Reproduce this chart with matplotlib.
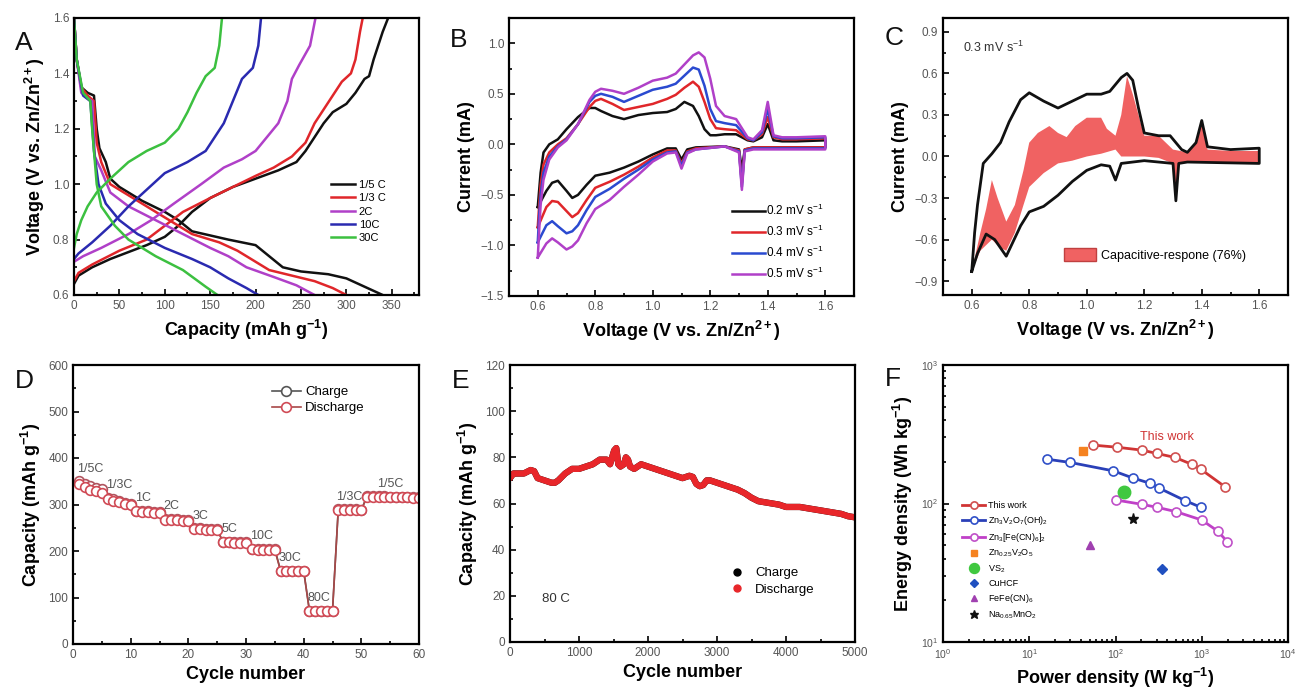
import matplotlib
matplotlib.use('Agg')
import matplotlib.pyplot as plt
from matplotlib.ticker import AutoMinorLocator, MultipleLocator, LogLocator, NullFormatter
from matplotlib.lines import Line2D
from matplotlib.patches import Patch

plt.rcParams['font.family'] = ['Liberation Sans', 'DejaVu Sans']
plt.rcParams['mathtext.fontset'] = 'custom'
plt.rcParams['mathtext.rm'] = 'Liberation Sans'
plt.rcParams['mathtext.it'] = 'Liberation Sans:italic'
plt.rcParams['mathtext.bf'] = 'Liberation Sans:bold'

# ---------------- Panel A: charge/discharge curves ----------------
A_labels = ['1/5 C', '1/3 C', '2C', '10C', '30C']
A_colors = ['#111111', '#e0262a', '#b040c8', '#2a2ab0', '#3cc040']
A_dis_cap_15 = [0, 3, 8, 15, 22, 25, 28, 35, 40, 50, 75, 100, 115, 130, 150, 170, 185, 200, 215, 230, 250, 280, 300, 320, 340]
A_dis_v_15 = [1.6, 1.45, 1.35, 1.33, 1.32, 1.2, 1.13, 1.08, 1.02, 0.99, 0.94, 0.9, 0.87, 0.83, 0.815, 0.8, 0.79, 0.78, 0.74, 0.7, 0.685, 0.675, 0.66, 0.63, 0.6]
A_chg_cap_15 = [0, 5, 20, 40, 60, 80, 100, 115, 130, 150, 175, 200, 225, 245, 255, 265, 275, 285, 300, 310, 320, 325, 330, 340, 346]
A_chg_v_15 = [0.64, 0.67, 0.7, 0.73, 0.755, 0.78, 0.81, 0.85, 0.9, 0.95, 0.99, 1.02, 1.05, 1.08, 1.12, 1.17, 1.22, 1.26, 1.29, 1.33, 1.38, 1.39, 1.45, 1.55, 1.6]
A_dis_cap_13 = [0, 3, 8, 15, 22, 25, 30, 40, 60, 100, 130, 160, 180, 200, 215, 240, 265, 285, 300]
A_dis_v_13 = [1.6, 1.45, 1.35, 1.32, 1.3, 1.15, 1.08, 1.0, 0.96, 0.88, 0.82, 0.79, 0.76, 0.72, 0.69, 0.67, 0.65, 0.625, 0.6]
A_chg_cap_13 = [0, 5, 20, 50, 80, 100, 120, 150, 175, 200, 220, 240, 255, 265, 275, 285, 295, 305, 310, 315, 318]
A_chg_v_13 = [0.65, 0.68, 0.71, 0.76, 0.8, 0.85, 0.9, 0.95, 0.99, 1.03, 1.06, 1.1, 1.15, 1.22, 1.27, 1.32, 1.37, 1.4, 1.45, 1.55, 1.6]
A_dis_cap_2 = [0, 3, 8, 15, 20, 23, 30, 40, 60, 90, 120, 150, 170, 190, 220, 245, 265]
A_dis_v_2 = [1.6, 1.45, 1.33, 1.31, 1.3, 1.1, 1.05, 0.97, 0.92, 0.87, 0.82, 0.77, 0.74, 0.7, 0.665, 0.635, 0.6]
A_chg_cap_2 = [0, 10, 30, 60, 85, 110, 140, 165, 185, 200, 210, 225, 235, 240, 248, 260, 266]
A_chg_v_2 = [0.72, 0.74, 0.77, 0.82, 0.87, 0.93, 1.0, 1.06, 1.09, 1.12, 1.16, 1.22, 1.3, 1.38, 1.43, 1.5, 1.6]
A_dis_cap_10 = [0, 3, 10, 18, 22, 27, 35, 50, 70, 100, 130, 150, 170, 190, 203]
A_dis_v_10 = [1.6, 1.45, 1.32, 1.3, 1.12, 1.0, 0.93, 0.87, 0.82, 0.77, 0.73, 0.7, 0.66, 0.625, 0.6]
A_chg_cap_10 = [0, 5, 20, 40, 60, 80, 100, 125, 145, 155, 165, 175, 185, 197, 203, 206]
A_chg_v_10 = [0.73, 0.75, 0.79, 0.85, 0.92, 0.98, 1.04, 1.08, 1.12, 1.17, 1.22, 1.3, 1.38, 1.42, 1.5, 1.6]
A_dis_cap_30 = [0, 3, 10, 18, 20, 25, 30, 45, 60, 90, 120, 145, 158]
A_dis_v_30 = [1.6, 1.45, 1.33, 1.3, 1.2, 1.0, 0.92, 0.85, 0.8, 0.74, 0.69, 0.63, 0.6]
A_chg_cap_30 = [0, 3, 8, 15, 25, 40, 60, 80, 100, 115, 125, 135, 145, 155, 160, 163]
A_chg_v_30 = [0.77, 0.82, 0.87, 0.92, 0.97, 1.02, 1.08, 1.12, 1.15, 1.2, 1.26, 1.33, 1.39, 1.42, 1.5, 1.6]

# ---------------- Panel B: CV at different scan rates ----------------
B_labels = ['0.2 mV s$^{-1}$', '0.3 mV s$^{-1}$', '0.4 mV s$^{-1}$', '0.5 mV s$^{-1}$']
B_colors = ['#111111', '#e0262a', '#2a4ad0', '#b040c8']
B_V_up = [0.60, 0.605, 0.61, 0.62, 0.64, 0.67, 0.70, 0.74, 0.78, 0.80, 0.82, 0.86, 0.90, 0.95, 1.00, 1.05, 1.08, 1.11, 1.14, 1.16, 1.18, 1.20, 1.22, 1.25, 1.29, 1.33, 1.35, 1.38, 1.40, 1.42, 1.45, 1.50, 1.60]
B_I_up_02 = [-0.62, -0.45, -0.28, -0.08, 0.0, 0.05, 0.15, 0.27, 0.36, 0.36, 0.33, 0.28, 0.25, 0.29, 0.31, 0.32, 0.35, 0.42, 0.38, 0.28, 0.15, 0.09, 0.09, 0.10, 0.10, 0.04, 0.03, 0.07, 0.20, 0.04, 0.03, 0.03, 0.04]
B_I_up_03 = [-0.82, -0.60, -0.40, -0.20, -0.08, 0.00, 0.06, 0.20, 0.37, 0.43, 0.45, 0.40, 0.34, 0.37, 0.40, 0.45, 0.49, 0.56, 0.62, 0.57, 0.42, 0.25, 0.16, 0.15, 0.14, 0.05, 0.04, 0.10, 0.27, 0.07, 0.05, 0.05, 0.06]
B_I_up_04 = [-0.97, -0.70, -0.50, -0.28, -0.12, -0.02, 0.05, 0.20, 0.42, 0.48, 0.50, 0.47, 0.42, 0.48, 0.54, 0.57, 0.60, 0.68, 0.76, 0.74, 0.58, 0.35, 0.23, 0.21, 0.19, 0.06, 0.04, 0.12, 0.35, 0.08, 0.06, 0.06, 0.07]
B_I_up_05 = [-1.12, -0.85, -0.60, -0.35, -0.15, -0.03, 0.04, 0.20, 0.44, 0.52, 0.55, 0.53, 0.50, 0.56, 0.63, 0.66, 0.70, 0.79, 0.88, 0.91, 0.86, 0.65, 0.38, 0.28, 0.25, 0.07, 0.05, 0.14, 0.42, 0.09, 0.07, 0.07, 0.08]
B_V_down = [1.60, 1.40, 1.35, 1.32, 1.31, 1.30, 1.25, 1.15, 1.12, 1.10, 1.08, 1.05, 1.00, 0.95, 0.90, 0.85, 0.80, 0.77, 0.74, 0.72, 0.70, 0.67, 0.65, 0.63, 0.60]
B_I_down_02 = [-0.03, -0.03, -0.03, -0.05, -0.25, -0.05, -0.02, -0.03, -0.05, -0.15, -0.04, -0.04, -0.10, -0.17, -0.23, -0.28, -0.31, -0.40, -0.50, -0.53, -0.46, -0.36, -0.38, -0.46, -0.62]
B_I_down_03 = [-0.03, -0.03, -0.03, -0.05, -0.38, -0.06, -0.02, -0.04, -0.07, -0.19, -0.06, -0.06, -0.13, -0.22, -0.30, -0.37, -0.43, -0.55, -0.68, -0.72, -0.66, -0.57, -0.56, -0.62, -0.82]
B_I_down_04 = [-0.04, -0.04, -0.04, -0.06, -0.42, -0.07, -0.02, -0.05, -0.08, -0.21, -0.07, -0.08, -0.15, -0.25, -0.34, -0.44, -0.52, -0.65, -0.80, -0.86, -0.88, -0.81, -0.76, -0.80, -0.97]
B_I_down_05 = [-0.05, -0.05, -0.05, -0.07, -0.45, -0.08, -0.02, -0.05, -0.09, -0.24, -0.08, -0.09, -0.17, -0.30, -0.42, -0.55, -0.64, -0.78, -0.95, -1.01, -1.04, -0.97, -0.93, -0.98, -1.12]

# ---------------- Panel C: capacitive contribution ----------------
C_V_up = [0.60, 0.61, 0.62, 0.64, 0.67, 0.70, 0.73, 0.77, 0.80, 0.85, 0.90, 0.95, 1.00, 1.05, 1.08, 1.12, 1.14, 1.16, 1.18, 1.20, 1.25, 1.29, 1.33, 1.35, 1.38, 1.40, 1.42, 1.50, 1.60]
C_I_up = [-0.83, -0.55, -0.35, -0.05, 0.02, 0.10, 0.25, 0.41, 0.46, 0.40, 0.35, 0.40, 0.45, 0.45, 0.47, 0.57, 0.60, 0.55, 0.35, 0.17, 0.15, 0.15, 0.05, 0.03, 0.10, 0.26, 0.07, 0.05, 0.06]
C_V_down = [1.60, 1.35, 1.32, 1.31, 1.30, 1.20, 1.12, 1.10, 1.08, 1.05, 1.00, 0.95, 0.90, 0.85, 0.80, 0.77, 0.72, 0.68, 0.65, 0.62, 0.60]
C_I_down = [-0.05, -0.04, -0.05, -0.32, -0.05, -0.03, -0.05, -0.17, -0.07, -0.06, -0.10, -0.18, -0.28, -0.36, -0.40, -0.50, -0.72, -0.60, -0.56, -0.70, -0.83]
C_fill_V_up = [0.60, 0.63, 0.65, 0.67, 0.69, 0.72, 0.75, 0.78, 0.80, 0.83, 0.87, 0.90, 0.93, 0.96, 1.00, 1.05, 1.07, 1.10, 1.12, 1.14, 1.16, 1.20, 1.25, 1.30, 1.35, 1.38, 1.40, 1.42, 1.50, 1.60]
C_fill_I_up = [-0.83, -0.55, -0.38, -0.17, -0.30, -0.47, -0.35, -0.10, 0.10, 0.17, 0.22, 0.17, 0.14, 0.22, 0.28, 0.28, 0.20, 0.15, 0.30, 0.58, 0.45, 0.15, 0.15, 0.05, 0.03, 0.10, 0.26, 0.05, 0.04, 0.04]
C_fill_V_down = [1.60, 1.50, 1.40, 1.32, 1.31, 1.30, 1.25, 1.20, 1.15, 1.12, 1.10, 1.05, 1.00, 0.95, 0.90, 0.85, 0.80, 0.78, 0.75, 0.72, 0.70, 0.67, 0.63, 0.60]
C_fill_I_down = [-0.04, -0.05, -0.04, -0.05, -0.28, -0.05, -0.01, 0.00, 0.00, 0.00, 0.05, 0.02, 0.00, -0.03, -0.05, -0.12, -0.22, -0.35, -0.55, -0.68, -0.66, -0.60, -0.68, -0.83]

# ---------------- Panel D: rate performance ----------------
D_cycles = list(range(1, 61))
D_charge = [350, 344, 339, 336, 333, 315, 311, 307, 304, 302, 287, 286, 285, 284, 284, 269, 268, 268, 267, 266,
            249, 249, 248, 248, 247, 220, 220, 219, 219, 219, 205, 205, 204, 204, 204, 158, 158, 158, 158, 158,
            72, 72, 72, 72, 72, 290, 290, 290, 290, 289, 318, 318, 318, 318, 317, 317, 317, 317, 316, 316]
D_discharge = [345, 338, 332, 328, 325, 312, 308, 305, 302, 300, 285, 284, 283, 282, 282, 267, 266, 266, 265, 264,
               247, 247, 246, 246, 246, 219, 219, 218, 218, 218, 204, 203, 203, 203, 202, 157, 157, 157, 157, 157,
               71, 71, 71, 71, 71, 289, 289, 289, 288, 288, 317, 317, 317, 317, 316, 316, 316, 316, 315, 315]
D_rate_labels = ['1/5C', '1/3C', '1C', '2C', '3C', '5C', '10C', '30C', '80C', '1/3C', '1/5C']
D_rate_start = [1, 6, 11, 16, 21, 26, 31, 36, 41, 46, 53]

# ---------------- Panel E: long cycling at 80 C ----------------
E_cycles = [0, 50, 100, 200, 300, 350, 400, 500, 600, 650, 700, 800, 900, 1000, 1100, 1200, 1300, 1400, 1450,
            1480, 1510, 1540, 1570, 1600, 1650, 1680, 1710, 1740, 1800, 1900, 2000, 2100, 2200, 2300, 2400, 2500,
            2600, 2650, 2700, 2750, 2800, 2850, 2900, 3000, 3100, 3200, 3300, 3400, 3500, 3600, 3700, 3800, 3900,
            4000, 4100, 4200, 4300, 4400, 4500, 4600, 4700, 4800, 4900, 5000]
E_capacity = [71, 73, 73, 73, 74.5, 74, 71, 70, 69, 69, 70, 73, 75, 75, 76, 77, 79, 79, 77,
              80, 83, 84, 77, 76, 77, 80, 79, 76, 75, 77, 76, 75, 74, 73, 72, 71,
              72, 71.5, 68.5, 67.5, 68, 70, 70, 69, 68, 67, 66, 64.5, 62.5, 61, 60.5, 60, 59.5,
              58.5, 58.5, 58.5, 58, 57.5, 57, 56.5, 56, 55.5, 54.5, 54]

# ---------------- Panel F: Ragone plot ----------------
F_this_P = [55, 103, 201, 300, 490, 764, 971, 1862]
F_this_E = [264, 255, 243, 230, 215, 192, 177, 132]
F_znvo_P = [15.9, 29.7, 94.4, 158, 251, 322, 639, 971]
F_znvo_E = [209, 198, 172, 153, 140, 129, 105, 94]
F_znfe_P = [101, 201, 305, 503, 998, 1528, 1978]
F_znfe_E = [106, 98.7, 93.8, 87.3, 76, 63.3, 53]
F_others_labels = ['Zn$_{0.25}$V$_2$O$_5$', 'VS$_2$', 'CuHCF', 'FeFe(CN)$_6$', 'Na$_{0.65}$MnO$_2$']
F_others_P = [41.7, 125.6, 346, 50.6, 158]
F_others_E = [239, 121.7, 33.5, 50.1, 77.3]

# ---------------- figure ----------------
W, H = 1296, 692
fig = plt.figure(figsize=(W / 100, H / 100), dpi=100)


def px_axes(left, top, right, bottom):
    return fig.add_axes([left / W, 1 - bottom / H, (right - left) / W, (bottom - top) / H])


TICK_COLOR = '#555555'


def style(ax, minor=True):
    for s in ax.spines.values():
        s.set_linewidth(1.6)
    ax.tick_params(which='both', direction='in', labelsize=8.5, labelcolor=TICK_COLOR, width=1.2)
    ax.tick_params(which='major', length=4)
    ax.tick_params(which='minor', length=2.5)
    if minor:
        ax.xaxis.set_minor_locator(AutoMinorLocator(2))
        ax.yaxis.set_minor_locator(AutoMinorLocator(2))


LABEL_KW = dict(fontsize=13, fontweight='bold')

# Panel A
axA = px_axes(74, 18, 419, 295)
A_data = [(A_dis_cap_15, A_dis_v_15, A_chg_cap_15, A_chg_v_15),
          (A_dis_cap_13, A_dis_v_13, A_chg_cap_13, A_chg_v_13),
          (A_dis_cap_2, A_dis_v_2, A_chg_cap_2, A_chg_v_2),
          (A_dis_cap_10, A_dis_v_10, A_chg_cap_10, A_chg_v_10),
          (A_dis_cap_30, A_dis_v_30, A_chg_cap_30, A_chg_v_30)]
for (dc, dv, cc, cv), lab, col in zip(A_data, A_labels, A_colors):
    axA.plot(dc, dv, color=col, lw=1.8, label=lab)
    axA.plot(cc, cv, color=col, lw=1.8)
axA.set_xlim(0, 380)
axA.set_ylim(0.6, 1.6)
axA.xaxis.set_major_locator(MultipleLocator(50))
axA.yaxis.set_major_locator(MultipleLocator(0.2))
style(axA)
axA.set_xlabel('Capacity (mAh g$^{\\mathbf{-1}}$)', **LABEL_KW)
axA.set_ylabel('Voltage (V vs. Zn/Zn$^{\\mathbf{2+}}$)', **LABEL_KW)
axA.legend(loc='upper left', bbox_to_anchor=(0.745, 0.415), frameon=False, fontsize=8,
           handlelength=2.2, handletextpad=0.3, labelspacing=0.3, borderpad=0, borderaxespad=0)

# Panel B
axB = px_axes(509, 18, 854, 296)
B_up = [B_I_up_02, B_I_up_03, B_I_up_04, B_I_up_05]
B_down = [B_I_down_02, B_I_down_03, B_I_down_04, B_I_down_05]
for iu, idn, lab, col in zip(B_up, B_down, B_labels, B_colors):
    axB.plot(B_V_up + B_V_down, iu + idn, color=col, lw=1.8, label=lab)
axB.set_xlim(0.5, 1.7)
axB.set_ylim(-1.5, 1.25)
axB.xaxis.set_major_locator(MultipleLocator(0.2))
axB.yaxis.set_major_locator(MultipleLocator(0.5))
style(axB)
axB.set_xlabel('Voltage (V vs. Zn/Zn$^{\\mathbf{2+}}$)', **LABEL_KW)
axB.set_ylabel('Current (mA)', **LABEL_KW)
axB.legend(loc='upper left', bbox_to_anchor=(0.645, 0.335), frameon=False, fontsize=8.5,
           handlelength=2.8, handletextpad=0.1, labelspacing=0.5, borderpad=0, borderaxespad=0)

# Panel C
axC = px_axes(943, 18, 1288, 295)
axC.fill(C_fill_V_up + C_fill_V_down, C_fill_I_up + C_fill_I_down, color='#f06262', lw=0,
         label='Capacitive-respone (76%)')
axC.plot(C_V_up + C_V_down, C_I_up + C_I_down, color='#111111', lw=2)
axC.set_xlim(0.5, 1.7)
axC.set_ylim(-1.0, 1.0)
axC.xaxis.set_major_locator(MultipleLocator(0.2))
axC.yaxis.set_major_locator(MultipleLocator(0.3))
style(axC)
axC.set_xlabel('Voltage (V vs. Zn/Zn$^{\\mathbf{2+}}$)', **LABEL_KW)
axC.set_ylabel('Current (mA)', **LABEL_KW)
axC.text(0.058, 0.895, '0.3 mV s$^{-1}$', transform=axC.transAxes, fontsize=9, color='#333333',
         va='center', ha='left')
axC.legend(handles=[Patch(facecolor='#f06262', edgecolor='#c04040', label='Capacitive-respone (76%)')],
           loc='center left', bbox_to_anchor=(0.35, 0.145), frameon=False, fontsize=9,
           handlelength=2.6, handleheight=1.3, handletextpad=0.4, borderpad=0, borderaxespad=0)

# Panel D
axD = px_axes(73, 365, 419, 644)
axD.plot(D_cycles, D_charge, color='#555555', lw=1.2, marker='o', ms=7, mfc='white',
         mec='#b05560', mew=1.2, label='Charge')
axD.plot(D_cycles, D_discharge, color='#a84848', lw=1.2, marker='o', ms=7, mfc='white',
         mec='#d04a55', mew=1.2, label='Discharge')
for lab, st in zip(D_rate_labels, D_rate_start):
    yv = max(D_charge[st - 1:st + 4])
    axD.text(st - 0.3, yv + 14, lab, fontsize=9, color='#555555', ha='left', va='bottom')
axD.set_xlim(0, 60)
axD.set_ylim(0, 600)
axD.xaxis.set_major_locator(MultipleLocator(10))
axD.yaxis.set_major_locator(MultipleLocator(100))
style(axD)
axD.set_xlabel('Cycle number', **LABEL_KW)
axD.set_ylabel('Capacity (mAh g$^{\\mathbf{-1}}$)', **LABEL_KW)
D_handles = [Line2D([], [], color='#555555', lw=1.2, marker='o', ms=7, mfc='white', mec='#555555',
                    mew=1.2, label='Charge'),
             Line2D([], [], color='#a84848', lw=1.2, marker='o', ms=7, mfc='white', mec='#d04a55',
                    mew=1.2, label='Discharge')]
axD.legend(handles=D_handles, loc='upper left', bbox_to_anchor=(0.575, 0.925), frameon=False, fontsize=9.5,
           handlelength=2.2, handletextpad=0.3, labelspacing=0.3, borderpad=0, borderaxespad=0)

# Panel E
axE = px_axes(510, 365, 855, 642)
axE.plot(E_cycles, E_capacity, color='black', lw=4.5, solid_capstyle='round')
axE.plot(E_cycles, E_capacity, color='#e8262a', lw=4.5, solid_capstyle='round')
axE.set_xlim(0, 5000)
axE.set_ylim(0, 120)
axE.xaxis.set_major_locator(MultipleLocator(1000))
axE.yaxis.set_major_locator(MultipleLocator(20))
style(axE)
axE.set_xlabel('Cycle number', **LABEL_KW)
axE.set_ylabel('Capacity (mAh g$^{\\mathbf{-1}}$)', **LABEL_KW)
axE.text(0.093, 0.155, '80 C', transform=axE.transAxes, fontsize=9.5, color='#333333',
         va='center', ha='left')
E_handles = [Line2D([], [], ls='none', marker='o', ms=5, color='black', label='Charge'),
             Line2D([], [], ls='none', marker='o', ms=5, color='#e8262a', label='Discharge')]
axE.legend(handles=E_handles, loc='upper left', bbox_to_anchor=(0.63, 0.27), frameon=False, fontsize=9.5,
           handlelength=1.5, handletextpad=0.6, labelspacing=0.3, borderpad=0, borderaxespad=0)

# Panel F
axF = px_axes(943, 365, 1288, 642)
axF.plot(F_this_P, F_this_E, color='#d03434', lw=2, marker='o', ms=6.5, mfc='white', mec='#d05050',
         mew=1.2, label='This work')
axF.plot(F_znvo_P, F_znvo_E, color='#2a40b8', lw=2, marker='o', ms=6.5, mfc='white', mec='#3050c8',
         mew=1.2, label='Zn$_3$V$_2$O$_7$(OH)$_2$')
axF.plot(F_znfe_P, F_znfe_E, color='#c040c8', lw=2, marker='o', ms=6.5, mfc='white', mec='#c050c8',
         mew=1.2, label='Zn$_3$[Fe(CN)$_6$]$_2$')
F_markers = ['s', 'o', 'D', '^', '*']
F_mcolors = ['#f58220', '#40c840', '#2050c0', '#a040b0', '#111111']
F_msizes = [6, 9, 5, 6, 8]
for lab, p, e, mk, mc, msz in zip(F_others_labels, F_others_P, F_others_E, F_markers, F_mcolors, F_msizes):
    axF.plot([p], [e], ls='none', marker=mk, ms=msz, color=mc, label=lab)
axF.set_xscale('log')
axF.set_yscale('log')
axF.set_xlim(1, 1e4)
axF.set_ylim(10, 1000)
for s in axF.spines.values():
    s.set_linewidth(1.6)
axF.tick_params(which='both', direction='in', labelsize=7.5, labelcolor=TICK_COLOR, width=1.2)
axF.tick_params(which='major', length=4)
axF.tick_params(which='minor', length=2.5)
axF.xaxis.set_minor_locator(LogLocator(base=10, subs=range(2, 10), numticks=20))
axF.yaxis.set_minor_locator(LogLocator(base=10, subs=range(2, 10), numticks=20))
axF.xaxis.set_minor_formatter(NullFormatter())
axF.yaxis.set_minor_formatter(NullFormatter())
axF.text(190, 300, 'This work', fontsize=9, color='#d03434', ha='left', va='center')
axF.set_xlabel('Power density (W kg$^{\\mathbf{-1}}$)', **LABEL_KW)
axF.set_ylabel('Energy density (Wh kg$^{\\mathbf{-1}}$)', **LABEL_KW)
axF.legend(loc='upper left', bbox_to_anchor=(0.055, 0.51), frameon=False, fontsize=6.5,
           handlelength=2.6, handletextpad=0.3, labelspacing=0.45, borderpad=0, borderaxespad=0,
           markerscale=0.8)

# panel letters
for letter, x, y in [('A', 15, 43), ('B', 450, 40), ('C', 885, 38), ('D', 15, 381), ('E', 452, 381), ('F', 885, 379)]:
    fig.text(x / W, 1 - y / H, letter, fontsize=19, ha='left', va='center', color='#111111')

fig.savefig('out.png', dpi=100)
